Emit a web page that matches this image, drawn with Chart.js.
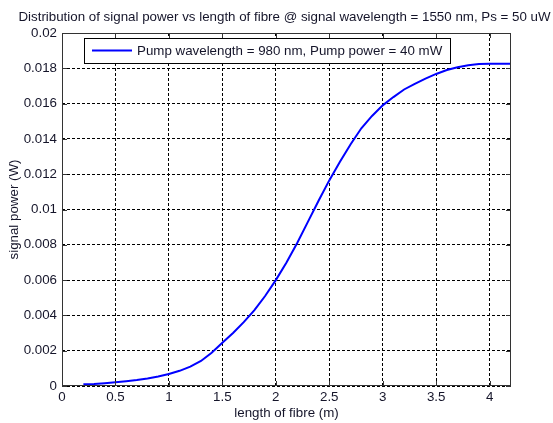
<!DOCTYPE html>
<html>
<head>
<meta charset="utf-8">
<script src="https://cdn.jsdelivr.net/npm/chart.js@4.4.1/dist/chart.umd.min.js"></script>
<style>
  html, body { margin: 0; padding: 0; background: #ffffff; }
  #wrap { width: 553px; height: 423px; }
</style>
</head>
<body>
<div id="wrap"><canvas id="c" width="553" height="423"></canvas></div>
<script>
// ---- data ----
const chartTitle = "Distribution of signal power vs length of fibre @ signal wavelength = 1550 nm, Ps = 50 uW";
const xAxisTitle = "length of fibre (m)";
const yAxisTitle = "signal power (W)";
const seriesLabel = "Pump wavelength = 980 nm, Pump power = 40 mW";

const fibreLength = [0.2, 0.3, 0.4, 0.5, 0.6, 0.7, 0.8, 0.9, 1.0, 1.1, 1.2, 1.3, 1.4, 1.5, 1.6, 1.7, 1.8, 1.9, 2.0,
                     2.1, 2.2, 2.3, 2.4, 2.5, 2.6, 2.7, 2.8, 2.9, 3.0, 3.1, 3.2, 3.3, 3.4, 3.5, 3.6, 3.7, 3.8, 3.9,
                     4.0, 4.1, 4.2];
const signalPower = [0.00010, 0.00012, 0.00016, 0.00021, 0.00027, 0.00034, 0.00043, 0.00054, 0.00068, 0.00086,
                     0.00110, 0.00142, 0.00188, 0.00245, 0.00300, 0.00362, 0.00430, 0.00510, 0.00600,
                     0.00700, 0.00810, 0.00930, 0.01050, 0.01165, 0.01270, 0.01370, 0.01460, 0.01530, 0.01590,
                     0.01637, 0.01680, 0.01712, 0.01742, 0.01768, 0.01790, 0.01806, 0.01817, 0.01824,
                     0.01826, 0.01826, 0.01826];

const xTicks = [0, 0.5, 1, 1.5, 2, 2.5, 3, 3.5, 4];
const yTicks = [0, 0.002, 0.004, 0.006, 0.008, 0.01, 0.012, 0.014, 0.016, 0.018, 0.02];
const xRange = [0, 4.2];
const yRange = [0, 0.02];

// ---- chart ----
const FONT = "'Liberation Sans', Arial, Helvetica, sans-serif";
const FSIZE = 13.33;
const TEXT = '#15152a';

const frameAndLegend = {
  id: 'frameAndLegend',
  afterDatasetsDraw(chart) {
    const ctx = chart.ctx;
    const a = chart.chartArea;
    const xs = chart.scales.x, ys = chart.scales.y;
    ctx.save();
    ctx.strokeStyle = '#333333';
    ctx.lineWidth = 1;
    // inward tick marks
    const tl = 5;
    ctx.beginPath();
    xs.ticks.forEach(t => {
      const px = Math.round(xs.getPixelForValue(t.value)) + 0.5;
      ctx.moveTo(px, a.bottom); ctx.lineTo(px, a.bottom - tl);
      ctx.moveTo(px, a.top); ctx.lineTo(px, a.top + tl);
    });
    ys.ticks.forEach(t => {
      const py = Math.round(ys.getPixelForValue(t.value)) + 0.5;
      ctx.moveTo(a.left, py); ctx.lineTo(a.left + tl, py);
      ctx.moveTo(a.right, py); ctx.lineTo(a.right - tl, py);
    });
    ctx.stroke();
    // frame
    ctx.strokeRect(Math.round(a.left) + 0.5, Math.round(a.top) + 0.5,
                   Math.round(a.right - a.left) - 1, Math.round(a.bottom - a.top) - 1);

    // legend box
    const ds = chart.data.datasets[0];
    ctx.font = FSIZE + 'px ' + FONT;
    const tw = ctx.measureText(ds.label).width;
    const bx = Math.round(a.left) + 22, by = Math.round(a.top) + 5;
    const bw = Math.round(8 + 40 + 5 + tw + 8), bh = 25;
    ctx.fillStyle = '#ffffff';
    ctx.fillRect(bx, by, bw, bh);
    ctx.strokeStyle = '#000000';
    ctx.strokeRect(bx + 0.5, by + 0.5, bw, bh);
    ctx.strokeStyle = ds.borderColor;
    ctx.lineWidth = 2;
    ctx.beginPath();
    ctx.moveTo(bx + 8, by + 12.5);
    ctx.lineTo(bx + 48, by + 12.5);
    ctx.stroke();
    ctx.fillStyle = TEXT;
    ctx.textBaseline = 'middle';
    ctx.textAlign = 'left';
    ctx.fillText(ds.label, bx + 53, by + 13);

    // chart title, centred over the plot area
    ctx.fillStyle = TEXT;
    ctx.textAlign = 'center';
    ctx.textBaseline = 'middle';
    ctx.fillText(chartTitle, (a.left + a.right) / 2 - 2, 17);
    ctx.restore();
  }
};

new Chart(document.getElementById('c'), {
  type: 'line',
  data: {
    datasets: [{
      label: seriesLabel,
      data: fibreLength.map((x, i) => ({ x: x, y: signalPower[i] })),
      borderColor: '#0000ff',
      backgroundColor: '#0000ff',
      borderWidth: 2,
      pointRadius: 0,
      tension: 0,
      fill: false
    }]
  },
  options: {
    responsive: false,
    animation: false,
    devicePixelRatio: 1,
    layout: { padding: { left: 0, right: 42, top: 33, bottom: 0 } },
    plugins: {
      legend: { display: false },
      tooltip: { enabled: false },
      title: { display: false }
    },
    scales: {
      x: {
        type: 'linear',
        min: xRange[0], max: xRange[1],
        afterBuildTicks: s => { s.ticks = xTicks.map(v => ({ value: v })); },
        afterFit: s => { s.height = 37; },
        ticks: {
          color: TEXT, padding: 3, maxRotation: 0, autoSkip: false,
          font: { family: FONT, size: FSIZE },
          callback: v => String(parseFloat(Number(v).toFixed(4)))
        },
        grid: { color: '#000000', lineWidth: 1, drawTicks: false },
        border: { display: false, dash: [3, 2] },
        title: {
          display: true, text: xAxisTitle, color: TEXT,
          font: { family: FONT, size: FSIZE }, padding: { top: 0, bottom: 2 }
        }
      },
      y: {
        type: 'linear',
        min: yRange[0], max: yRange[1],
        afterBuildTicks: s => { s.ticks = yTicks.map(v => ({ value: v })); },
        afterFit: s => { s.width = 62; },
        ticks: {
          color: TEXT, padding: 5, autoSkip: false,
          font: { family: FONT, size: FSIZE },
          callback: v => String(parseFloat(Number(v).toFixed(4)))
        },
        grid: { color: '#000000', lineWidth: 1, drawTicks: false },
        border: { display: false, dash: [3, 2] },
        title: {
          display: true, text: yAxisTitle, color: TEXT,
          font: { family: FONT, size: FSIZE }, padding: { top: 6, bottom: 0 }
        }
      }
    }
  },
  plugins: [frameAndLegend, {
    id: 'whiteBg',
    beforeDraw(chart) {
      const ctx = chart.ctx;
      ctx.save();
      ctx.fillStyle = '#ffffff';
      ctx.fillRect(0, 0, chart.width, chart.height);
      ctx.restore();
    }
  }]
});
</script>
</body>
</html>
